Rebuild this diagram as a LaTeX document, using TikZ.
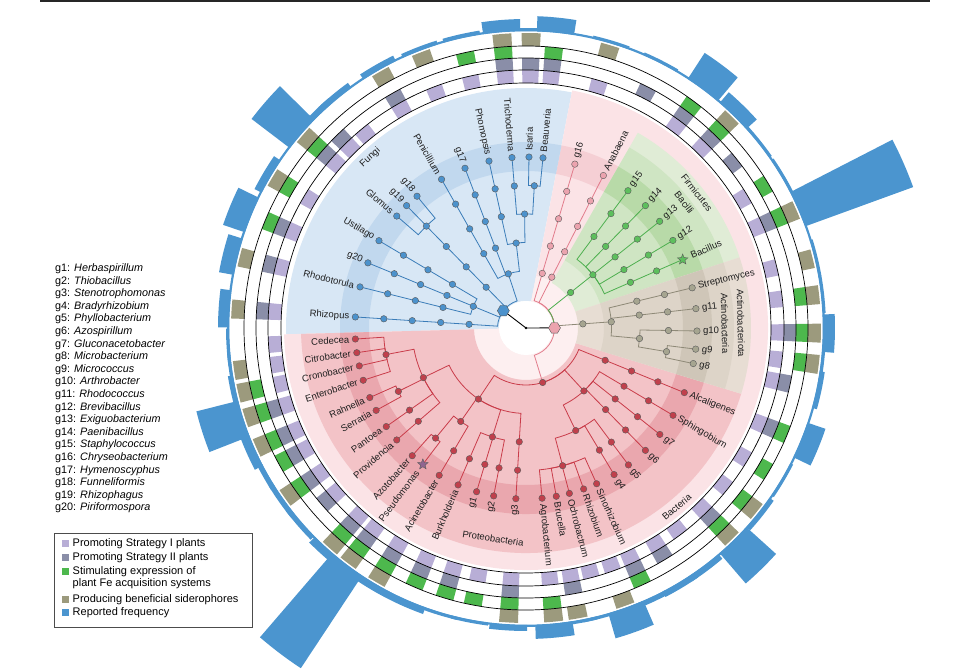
\documentclass[tikz,border=0pt]{standalone}
\usepackage{fontspec}
\setmainfont{Liberation Sans}
\usetikzlibrary{shapes.geometric}

\definecolor{fungibg}{HTML}{D8E7F5}
\definecolor{fungiband}{HTML}{C1D8EE}
\definecolor{bactbg}{HTML}{FBE3E6}
\definecolor{bactin}{HTML}{FDEFF0}
\definecolor{bactband}{HTML}{F5CFD4}
\definecolor{protbg}{HTML}{F3C3C7}
\definecolor{protband}{HTML}{EAA7AE}
\definecolor{firmbg}{HTML}{E0ECD6}
\definecolor{bacibg}{HTML}{CFE5C3}
\definecolor{firmband}{HTML}{B8DAA8}
\definecolor{actbg}{HTML}{E7DDD3}
\definecolor{actibg}{HTML}{DDD4C8}
\definecolor{actband}{HTML}{CFC6B8}
\definecolor{fungiline}{HTML}{3A7CB8}
\definecolor{fungidot}{HTML}{4C92CC}
\definecolor{pinkline}{HTML}{E27C8C}
\definecolor{pinkdot}{HTML}{EBA3AE}
\definecolor{greenline}{HTML}{4DAF4F}
\definecolor{greendot}{HTML}{5DBF5D}
\definecolor{actline}{HTML}{8E8977}
\definecolor{actdot}{HTML}{A6A590}
\definecolor{redline}{HTML}{C93C4A}
\definecolor{reddot}{HTML}{C0404C}
\definecolor{stratI}{HTML}{B8AED6}
\definecolor{stratII}{HTML}{8A8EA8}
\definecolor{feacq}{HTML}{4DB84D}
\definecolor{sidero}{HTML}{9C9A7D}
\definecolor{freq}{HTML}{4B95CF}

\pgfdeclarelayer{back}
\pgfdeclarelayer{edges}
\pgfsetlayers{back,edges,main}

% annular sector: colour, start angle, end angle, inner r, outer r
\newcommand\sector[5]{\fill[#1] ({#2}:{#4}) arc[start angle={#2}, end angle={#3}, radius={#4}]
  -- ({#3}:{#5}) arc[start angle={#3}, end angle={#2}, radius={#5}] -- cycle;}
% taxon dots at one angle from level #5 to level #6
\newcommand\lineage[6]{%
  \foreach \k in {#5,...,#6} {\node[#1] (#3-\k) at ({#4}:{28.5*\k}) {};}
  \ifnum#5<#6 \begin{pgfonlayer}{edges}\draw[#2] (#3-#5.center) -- (#3-#6.center);\end{pgfonlayer}\fi}
% parent to child: arc on the parent level, then out along the child angle
\newcommand\twig[6]{\begin{pgfonlayer}{edges}
  \draw[#1] (#2.center) arc[start angle={#4}, end angle={#5}, radius={28.5*#3}] -- (#6.center);
  \end{pgfonlayer}}

\begin{document}
\begin{tikzpicture}[x=1pt, y=1pt,
    taxon/.style={circle, draw=black!65, line width=0.4pt, minimum size=6.5pt, inner sep=0pt},
    dotF/.style={taxon, fill=fungidot},
    dotP/.style={taxon, fill=pinkdot},
    dotG/.style={taxon, fill=greendot},
    dotA/.style={taxon, fill=actdot},
    dotR/.style={taxon, fill=reddot},
    starmark/.style={star, star points=5, star point ratio=2.3, minimum size=11pt, inner sep=0pt,
      draw=black!65, line width=0.4pt},
    hexmark/.style={regular polygon, regular polygon sides=6, minimum size=12pt, inner sep=0pt,
      draw=black!65, line width=0.4pt},
    branch/.style={line width=0.8pt},
    edgeF/.style={branch, draw=fungiline},
    edgeP/.style={branch, draw=pinkline},
    edgeG/.style={branch, draw=greenline},
    edgeA/.style={branch, draw=actline},
    edgeR/.style={branch, draw=redline},
    rootline/.style={line width=0.9pt, draw=black},
    tiplab/.style={font=\fontsize{9.5}{11}\selectfont, inner sep=1pt, text=black!88},
    cladelab/.style={font=\fontsize{9.5}{11}\selectfont, inner sep=0pt, text=black!88},
    glist/.style={font=\fontsize{10.8}{12}\selectfont, anchor=base west, inner sep=0pt},
    legtext/.style={font=\fontsize{11}{12}\selectfont, anchor=west, inner sep=0pt}]
\useasboundingbox (0,0) rectangle (970,670);
\draw[line width=2pt, black!85] (40,669) -- (930,669);

\begin{scope}[shift={(526,342)}]
  % shaded clades
  \begin{pgfonlayer}{back}
    \sector{fungibg}{79}{181.5}{27}{240}
    \sector{bactbg}{-178.5}{79}{27}{242}
    \sector{bactin}{-178.5}{79}{27}{53}
    \sector{bactband}{60}{79}{157}{186}
    \sector{fungiband}{79}{181.5}{157}{186}
    \sector{protbg}{-178.5}{-17}{52}{225}
    \sector{protband}{-178.5}{-17}{157}{186}
    \sector{firmbg}{18.3}{60.2}{52}{225}
    \sector{bacibg}{18.3}{60.2}{78}{208}
    \sector{firmband}{18.3}{60.2}{157}{186}
    \sector{actbg}{-17}{18.3}{52}{225}
    \sector{actibg}{-17}{18.3}{78}{208}
    \sector{actband}{-17}{18.3}{157}{186}
    \fill[white] (0,0) circle[radius=27];
  \end{pgfonlayer}

  \coordinate (root) at (0,0);
  \node[hexmark, fill=fungidot] (fungi) at (142.6:28.5) {};
  \node[hexmark, fill=pinkdot] (bacteria) at (0.2:28.5) {};
  \begin{pgfonlayer}{edges}
    \draw[rootline] (root) -- (fungi.center);
    \draw[rootline] (root) -- (bacteria.center);
    \fill (root) circle[radius=1.3];
  \end{pgfonlayer}

  % Fungi
  \lineage{dotF}{edgeF}{rhizo}{176.3}{2}{6}
  \twig{edgeF}{fungi}{1}{142.6}{176.3}{rhizo-2}
  \lineage{dotF}{edgeF}{basid}{157.65}{2}{2}
  \twig{edgeF}{fungi}{1}{142.6}{157.65}{basid-2}
  \foreach \n/\a in {rhodo/166.1, g20/157.6, ustil/149.3}{
    \lineage{dotF}{edgeF}{\n}{\a}{3}{6}
    \twig{edgeF}{basid-2}{2}{157.65}{\a}{\n-3}}
  \lineage{dotF}{edgeF}{glomer}{134.35}{2}{5}
  \twig{edgeF}{fungi}{1}{142.6}{134.35}{glomer-2}
  \foreach \n/\a in {glomus/139.1, g19/134.3, g18/129.6}{
    \lineage{dotF}{edgeF}{\n}{\a}{6}{6}
    \twig{edgeF}{glomer-5}{5}{134.35}{\a}{\n-6}}
  \lineage{dotF}{edgeF}{ascom}{108.1}{2}{2}
  \twig{edgeF}{fungi}{1}{142.6}{108.1}{ascom-2}
  \foreach \n/\a in {penic/119.6, g17/110.9}{
    \lineage{dotF}{edgeF}{\n}{\a}{3}{6}
    \twig{edgeF}{ascom-2}{2}{108.1}{\a}{\n-3}}
  \lineage{dotF}{edgeF}{sordar}{96.6}{3}{3}
  \twig{edgeF}{ascom-2}{2}{108.1}{96.6}{sordar-3}
  \lineage{dotF}{edgeF}{phomo}{102.5}{4}{6}
  \twig{edgeF}{sordar-3}{3}{96.6}{102.5}{phomo-4}
  \lineage{dotF}{edgeF}{hypoc}{90.7}{4}{4}
  \twig{edgeF}{sordar-3}{3}{96.6}{90.7}{hypoc-4}
  \lineage{dotF}{edgeF}{trich}{94.7}{5}{6}
  \twig{edgeF}{hypoc-4}{4}{90.7}{94.7}{trich-5}
  \lineage{dotF}{edgeF}{cordy}{86.65}{5}{5}
  \twig{edgeF}{hypoc-4}{4}{90.7}{86.65}{cordy-5}
  \foreach \n/\a in {isaria/89, beauv/84.3}{
    \lineage{dotF}{edgeF}{\n}{\a}{6}{6}
    \twig{edgeF}{cordy-5}{5}{86.65}{\a}{\n-6}}

  % Bacteria
  \foreach \n/\a in {g16/73.4, anab/63.1}{
    \lineage{dotP}{edgeP}{\n}{\a}{2}{6}
    \twig{edgeP}{bacteria}{1}{0.2}{\a}{\n-2}}
  \lineage{dotG}{edgeG}{firm}{38.5}{2}{3}
  \twig{edgeG}{bacteria}{1}{0.2}{38.5}{firm-2}
  \foreach \n/\a in {g15/53.4, g14/45.7, g13/38.6, g12/30.8}{
    \lineage{dotG}{edgeG}{\n}{\a}{4}{6}
    \twig{edgeG}{firm-3}{3}{38.5}{\a}{\n-4}}
  \lineage{dotG}{edgeG}{bacil}{23.6}{4}{5}
  \twig{edgeG}{firm-3}{3}{38.5}{23.6}{bacil-4}
  \node[starmark, fill=greendot] (bacil-6) at (23.6:171) {};
  \twig{edgeG}{bacil-5}{5}{23.6}{23.6}{bacil-6}

  \lineage{dotA}{edgeA}{actin}{4.15}{2}{3}
  \twig{edgeA}{bacteria}{1}{0.2}{4.15}{actin-2}
  \foreach \n/\a in {strep/13.6, g11/6.5}{
    \lineage{dotA}{edgeA}{\n}{\a}{4}{6}
    \twig{edgeA}{actin-3}{3}{4.15}{\a}{\n-4}}
  \lineage{dotA}{edgeA}{micro}{-5.3}{4}{4}
  \twig{edgeA}{actin-3}{3}{4.15}{-5.3}{micro-4}
  \lineage{dotA}{edgeA}{g10}{-1}{5}{6}
  \twig{edgeA}{micro-4}{4}{-5.3}{-1}{g10-5}
  \lineage{dotA}{edgeA}{mcoc}{-9.55}{5}{5}
  \twig{edgeA}{micro-4}{4}{-5.3}{-9.55}{mcoc-5}
  \foreach \n/\a in {g9/-7.1, g8/-12}{
    \lineage{dotA}{edgeA}{\n}{\a}{6}{6}
    \twig{edgeA}{mcoc-5}{5}{-9.55}{\a}{\n-6}}

  \lineage{dotR}{edgeR}{prot}{-73}{2}{2}
  \twig{edgeP}{bacteria}{1}{0.2}{-73}{prot-2}
  \lineage{dotR}{edgeR}{gamma}{-123.8}{3}{3}
  \twig{edgeR}{prot-2}{2}{-73}{-123.8}{gamma-3}
  \lineage{dotR}{edgeR}{alca}{-22.2}{3}{6}
  \twig{edgeR}{prot-2}{2}{-73}{-22.2}{alca-3}
  \lineage{dotR}{edgeR}{alpha}{-47.4}{3}{3}
  \twig{edgeR}{prot-2}{2}{-73}{-47.4}{alpha-3}
  % Gammaproteobacteria
  \lineage{dotR}{edgeR}{entord}{-154.2}{4}{4}
  \twig{edgeR}{gamma-3}{3}{-123.8}{-154.2}{entord-4}
  \lineage{dotR}{edgeR}{entfam}{-169.25}{5}{5}
  \twig{edgeR}{entord-4}{4}{-154.2}{-169.25}{entfam-5}
  \foreach \n/\a in {cede/-176.3, citr/-171.7, cron/-167.2, ente/-162.2}{
    \lineage{dotR}{edgeR}{\n}{\a}{6}{6}
    \twig{edgeR}{entfam-5}{5}{-169.25}{\a}{\n-6}}
  \lineage{dotR}{edgeR}{yers}{-153.6}{5}{5}
  \twig{edgeR}{entord-4}{4}{-154.2}{-153.6}{yers-5}
  \foreach \n/\a in {rahn/-156, serr/-151.2}{
    \lineage{dotR}{edgeR}{\n}{\a}{6}{6}
    \twig{edgeR}{yers-5}{5}{-153.6}{\a}{\n-6}}
  \foreach \n/\a in {pant/-144.8, prov/-139.1}{
    \lineage{dotR}{edgeR}{\n}{\a}{5}{6}
    \twig{edgeR}{entord-4}{4}{-154.2}{\a}{\n-5}}
  \lineage{dotR}{edgeR}{pseord}{-124.95}{4}{4}
  \twig{edgeR}{gamma-3}{3}{-123.8}{-124.95}{pseord-4}
  \lineage{dotR}{edgeR}{psefam}{-129.4}{5}{5}
  \twig{edgeR}{pseord-4}{4}{-124.95}{-129.4}{psefam-5}
  \lineage{dotR}{edgeR}{azot}{-131.7}{6}{6}
  \twig{edgeR}{psefam-5}{5}{-129.4}{-131.7}{azot-6}
  \node[starmark, fill=black!45!violet!60] (pseu-6) at (-127.1:171) {};
  \twig{edgeR}{psefam-5}{5}{-129.4}{-127.1}{pseu-6}
  \lineage{dotR}{edgeR}{acin}{-120.5}{5}{6}
  \twig{edgeR}{pseord-4}{4}{-124.95}{-120.5}{acin-5}
  \lineage{dotR}{edgeR}{burord}{-107.15}{4}{4}
  \twig{edgeR}{gamma-3}{3}{-123.8}{-107.15}{burord-4}
  \foreach \n/\a in {burk/-113.4, g1/-106.8, g2/-100.9}{
    \lineage{dotR}{edgeR}{\n}{\a}{5}{6}
    \twig{edgeR}{burord-4}{4}{-107.15}{\a}{\n-5}}
  \lineage{dotR}{edgeR}{g3}{-93.4}{4}{6}
  \twig{edgeR}{gamma-3}{3}{-123.8}{-93.4}{g3-4}
  % Alphaproteobacteria
  \foreach \n/\a in {sphi/-30.7, g7/-38.5, g6/-45.7}{
    \lineage{dotR}{edgeR}{\n}{\a}{4}{6}
    \twig{edgeR}{alpha-3}{3}{-47.4}{\a}{\n-4}}
  \lineage{dotR}{edgeR}{rhzord}{-64.15}{4}{4}
  \twig{edgeR}{alpha-3}{3}{-47.4}{-64.15}{rhzord-4}
  \foreach \n/\a in {g5/-53.2, g4/-59}{
    \lineage{dotR}{edgeR}{\n}{\a}{5}{6}
    \twig{edgeR}{rhzord-4}{4}{-64.15}{\a}{\n-5}}
  \lineage{dotR}{edgeR}{rhzfam}{-75.1}{5}{5}
  \twig{edgeR}{rhzord-4}{4}{-64.15}{-75.1}{rhzfam-5}
  \foreach \n/\a in {sino/-65.6, rzob/-70.3, ochr/-75.3, bruc/-79.8, agro/-84.6}{
    \lineage{dotR}{edgeR}{\n}{\a}{6}{6}
    \twig{edgeR}{rhzfam-5}{5}{-75.1}{\a}{\n-6}}

  % tip labels
  \foreach \a/\r/\t [count=\i] in {176.3/176/Rhizopus, 166.1/176/Rhodotorula, 157.6/176/g20,
      149.3/176/Ustilago, 139.1/176/Glomus, 134.3/176/g19, 129.6/176/g18,
      119.6/176/Penicillium, 110.9/176/g17, 102.5/176/Phomopsis, 94.7/176/Trichoderma,
      89/176/Isaria, 84.3/176/Beauveria, 73.4/176/g16, 63.1/176/Anabaena, 53.4/176/g15,
      45.7/176/g14, 38.6/176/g13, 30.8/176/g12, 23.6/179/Bacillus, 13.6/176/Streptomyces,
      6.5/176/g11, -1/176/g10, -7.1/176/g9, -12/176/g8, -22.2/176/Alcaligenes,
      -30.7/176/Sphingobium, -38.5/176/g7, -45.7/176/g6, -53.2/176/g5, -59/176/g4,
      -65.6/176/Sinorhizobium, -70.3/176/Rhizobium, -75.3/176/Ochrobactrum,
      -79.8/176/Brucella, -84.6/176/Agrobacterium, -93.4/176/g3, -100.9/176/g2,
      -106.8/176/g1, -113.4/176/Burkholderia, -120.5/176/Acinetobacter,
      -127.1/179/Pseudomonas, -131.7/176/Azotobacter, -139.1/176/Providencia,
      -144.8/176/Pantoea, -151.2/176/Serratia, -156/176/Rahnella, -162.2/176/Enterobacter,
      -167.2/176/Cronobacter, -171.7/176/Citrobacter, -176.3/176/Cedecea}{
    \pgfmathtruncatemacro\flip{(\a>90)||(\a<-90)}
    \ifnum\flip=1
      \node[tiplab, anchor=east, rotate={\a-180}] (tip\i) at ({\a}:\r) {\t};
    \else
      \node[tiplab, anchor=west, rotate={\a}] (tip\i) at ({\a}:\r) {\t};
    \fi}

  % clade labels
  \node[cladelab, rotate=42.4] (lfungi) at (132.4:231) {Fungi};
  \node[cladelab, rotate=40.1] (lbact) at (-49.9:234) {Bacteria};
  \node[cladelab, rotate=-8.9] (lprot) at (-98.9:213) {Proteobacteria};
  \node[cladelab, rotate=-51.8] (lfirm) at (38.4:218) {Firmicutes};
  \node[cladelab, rotate=-52] (lbaci) at (38.4:202) {Bacilli};
  \node[cladelab, rotate=-88.7] (lactt) at (1.3:215) {Actinobacteriota};
  \node[cladelab, rotate=-88.6] (lacti) at (1.4:199) {Actinobacteria};

  % trait rings and reported frequency
  \foreach \ang/\pI/\pII/\pFe/\pSid/\frq in {176.3/1/1/0/1/308, 166.1/1/1/0/1/312, 157.6/1/1/1/0/320,
      149.3/1/0/1/1/305, 139.1/1/1/1/1/345, 134.3/1/1/0/0/303, 129.6/1/0/0/0/303,
      119.6/1/1/0/1/303, 110.9/1/0/0/1/301, 102.5/1/0/1/0/301, 94.7/1/1/1/1/309,
      89/1/1/0/1/300, 84.3/1/1/1/0/312, 73.4/1/0/0/1/300, 63.1/0/1/0/0/300,
      53.4/1/1/1/0/328, 45.7/1/1/1/1/311, 38.6/0/1/0/0/300, 30.8/1/0/1/0/300,
      23.6/1/1/1/1/412, 13.6/1/0/0/1/300, 6.5/1/0/1/1/300, -1/1/1/1/1/309,
      -7.1/1/0/1/1/300, -12/1/1/0/0/302, -22.2/1/1/1/0/316, -30.7/1/0/1/0/300,
      -38.5/1/0/1/1/302, -45.7/1/1/1/1/337, -53.2/1/0/0/0/303, -59/1/1/0/0/303,
      -65.6/1/1/1/0/302, -70.3/1/0/0/1/323, -75.3/1/0/0/0/300, -79.8/1/1/0/1/300,
      -84.6/1/0/1/1/311, -93.4/1/1/1/1/303, -100.9/1/0/1/0/300, -106.8/1/1/1/0/300,
      -113.4/1/1/1/0/304, -120.5/1/1/1/1/304, -127.1/1/1/1/1/408, -131.7/1/1/1/1/305,
      -139.1/1/1/0/0/302, -144.8/1/1/1/1/302, -151.2/1/1/1/0/302, -156/1/1/1/1/306,
      -162.2/1/1/1/1/340, -167.2/1/0/1/1/302, -171.7/1/0/0/1/300, -176.3/1/0/0/0/300}{
    \ifnum\pI=1 \sector{stratI}{\ang-1.85}{\ang+1.85}{245}{258}\fi
    \ifnum\pII=1 \sector{stratII}{\ang-1.85}{\ang+1.85}{258}{270}\fi
    \ifnum\pFe=1 \sector{feacq}{\ang-1.85}{\ang+1.85}{270}{282}\fi
    \ifnum\pSid=1 \sector{sidero}{\ang-1.85}{\ang+1.85}{282}{295}\fi
    \sector{freq}{\ang-3.6}{\ang+3.6}{297}{\frq}}
  \foreach \r in {245,258,270,282}
    \draw[line width=0.7pt] (0,0) circle[radius=\r];
  \draw[freq, line width=2.2pt] (0,0) circle[radius=297.8];
\end{scope}

% genus key
\foreach \g/\n [count=\i] in {1/Herbaspirillum, 2/Thiobacillus, 3/Stenotrophomonas,
    4/Bradyrhizobium, 5/Phyllobacterium, 6/Azospirillum, 7/Gluconacetobacter,
    8/Microbacterium, 9/Micrococcus, 10/Arthrobacter, 11/Rhodococcus, 12/Brevibacillus,
    13/Exiguobacterium, 14/Paenibacillus, 15/Staphylococcus, 16/Chryseobacterium,
    17/Hymenoscyphus, 18/Funneliformis, 19/Rhizophagus, 20/Piriformospora}
  \node[glist] (key\i) at (55,{398.5-12.6*(\i-1)}) {g\g: \textit{\n}};

% legend
\draw[black!70, line width=0.8pt] (54,43) rectangle (252,137);
\foreach \y/\c/\t [count=\i] in {126/stratI/Promoting Strategy I plants,
    112/stratII/Promoting Strategy II plants, 98/feacq/Stimulating expression of,
    70/sidero/Producing beneficial siderophores, 57/freq/Reported frequency}{
  \fill[\c] (62,\y-3.5) rectangle ++(7,7);
  \node[legtext] (leg\i) at (72.5,\y) {\t};}
\node[legtext] (leg6) at (72.5,86) {plant Fe acquisition systems};
\end{tikzpicture}
\end{document}
